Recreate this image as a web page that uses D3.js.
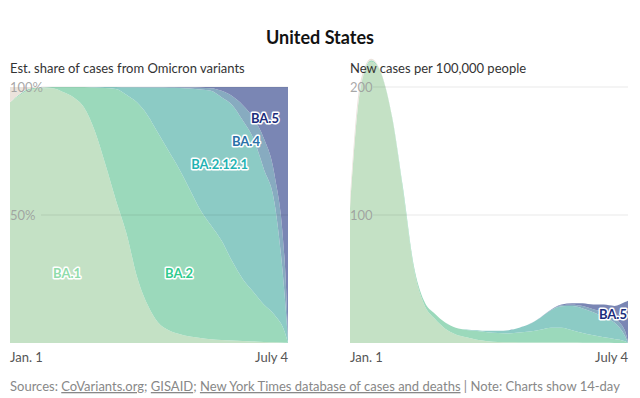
<!DOCTYPE html>
<html><head><meta charset="utf-8">
<script src="https://cdn.jsdelivr.net/npm/d3@7"></script>
<style>
body{margin:0;background:#fff;}
svg{display:block;font-family:Lato,"Liberation Sans",sans-serif;}
.lnk{text-decoration:underline;}
</style></head><body>
<svg id="c" width="640" height="398"></svg>
<script>
// ---- data ----
const days = [0,7,14,21,28,35,42,49,56,63,70,77,84,91,98,105,112,119,126,133,140,147,154,161,168,175,182,184];
const variantNames = ["BA.1","BA.2","BA.2.12.1","BA.4","BA.5","Other"];
const shareBA1    = [94,97,99,99.5,99.5,98,96,92,83,70,56,43,26,15,8,5,3.5,2.5,2,1.5,1.2,1,0.8,0.6,0.4,0.3,0.1,0];
const shareBA2    = [0,0.5,0.5,0.3,0.5,2,4,8,16.8,29.6,43.2,54,68,74,74,70,64.5,57.5,50,44.5,38.8,31,24.2,19.4,14.6,10.7,3.9,0];
const shareBA2121 = [0,0,0,0,0,0,0,0,0.2,0.4,0.8,2.9,5.9,10.8,17.8,24.7,31.6,39.4,47,52.5,56,61,62,60,53,44,13,1];
const shareBA4    = [0,0,0,0,0,0,0,0,0,0,0,0.1,0.1,0.2,0.2,0.3,0.3,0.4,0.7,1,2.5,3.5,6,8,12,11,13,1];
const shareBA5    = [0,0,0,0,0,0,0,0,0,0,0,0,0,0,0,0,0.1,0.2,0.3,0.5,1.5,3.5,7,12,20,34,70,98];
const shareOther  = [6,2.5,0.5,0.2,0,0,0,0,0,0,0,0,0,0,0,0,0,0,0,0,0,0,0,0,0,0,0,0];
const casesPer100k = [112,205,222,210,176,122,62,33,23,16,12,10.5,10,9.5,9.5,10,12,15,20,26,30,31,31,30,30,29,32,33];
const shareTicks = [50,100];
const shareTickLabels = ["50%","100%"];
const caseTicks = [100,200];
const caseTickLabels = ["100","200"];
const xTickLabels = ["Jan. 1","July 4"];

// ---- styling ----
const colors = {"BA.1":"#c4e1c5","BA.2":"#9bd9bb","BA.2.12.1":"#8ccbc5","BA.4":"#87abc0","BA.5":"#7a86b4","Other":"#ebe3dc"};
const labelColors = {"BA.1":"#8fdcaa","BA.2":"#2fcb8e","BA.2.12.1":"#1fb3b3","BA.4":"#2a70a8","BA.5":"#1b2c7c"};

const start = new Date(2022,0,1);
const dates = days.map(d => d3.timeDay.offset(start, d));
const keys = ["BA1","BA2","BA2121","BA4","BA5","Other"];
const shareArrays = [shareBA1,shareBA2,shareBA2121,shareBA4,shareBA5,shareOther];
const keyName = {BA1:"BA.1",BA2:"BA.2",BA2121:"BA.2.12.1",BA4:"BA.4",BA5:"BA.5",Other:"Other"};

const shareRows = dates.map((dt,i) => {
  const r = {date: dt};
  keys.forEach((k,j) => r[k] = shareArrays[j][i]);
  return r;
});
const caseRows = dates.map((dt,i) => {
  const r = {date: dt};
  keys.forEach((k,j) => r[k] = shareArrays[j][i] / 100 * casesPer100k[i]);
  return r;
});

const svg = d3.select("#c");
const yTop = 87, yBot = 343;

// title
svg.append("text").attr("x",320).attr("y",44).attr("text-anchor","middle")
  .attr("font-size",18).attr("font-weight",700).attr("fill","#121212").text("United States");

function panel(x0, x1, rows, yMax, ticks, tickLabels, subtitle, labels, gridStart) {
  const x = d3.scaleTime().domain([dates[0], dates[dates.length-1]]).range([x0, x1]);
  const y = d3.scaleLinear().domain([0, yMax]).range([yBot, yTop]);
  const g = svg.append("g");
  const stack = d3.stack().keys(keys)(rows);
  const area = d3.area().x(d => x(d.data.date)).y0(d => y(d[0])).y1(d => y(d[1])).curve(d3.curveMonotoneX);
  g.selectAll("path.a").data(stack).join("path").attr("class","a")
    .attr("d", area).attr("fill", d => colors[keyName[d.key]]);
  // gridlines
  g.selectAll("line.g").data(ticks).join("line").attr("class","g")
    .attr("x1", x0 + gridStart).attr("x2", x1).attr("y1", d => y(d)).attr("y2", d => y(d))
    .attr("stroke", "#000").attr("stroke-opacity", 0.09).attr("stroke-width",1);
  g.selectAll("text.t").data(ticks).join("text").attr("class","t")
    .attr("x", x0).attr("y", d => y(d)).attr("dy","0.35em")
    .attr("font-size",13).attr("fill","#999").attr("fill-opacity",0.85)
    .text((d,i) => tickLabels[i]);
  // subtitle
  g.append("text").attr("x", x0).attr("y", 73).attr("font-size",13).attr("fill","#333").text(subtitle);
  // x labels
  g.append("text").attr("x", x0).attr("y", 362).attr("font-size",13).attr("fill","#555").text(xTickLabels[0]);
  g.append("text").attr("x", x1).attr("y", 362).attr("text-anchor","end").attr("font-size",13).attr("fill","#555").text(xTickLabels[1]);
  // variant labels
  labels.forEach(l => {
    g.append("text").attr("x", l.x).attr("y", l.y).attr("text-anchor", l.anchor || "start")
      .attr("font-size",13).attr("font-weight",700)
      .attr("fill", labelColors[l.name]).attr("stroke","#fff").attr("stroke-width",3)
      .attr("stroke-linejoin","round").attr("paint-order","stroke").text(l.name);
  });
}

panel(10, 288, shareRows, 100, shareTicks, shareTickLabels, "Est. share of cases from Omicron variants", [
  {name:"BA.5", x:279, y:123, anchor:"end"},
  {name:"BA.4", x:260, y:146, anchor:"end"},
  {name:"BA.2.12.1", x:248, y:169, anchor:"end"},
  {name:"BA.1", x:53, y:278},
  {name:"BA.2", x:165, y:278}
], 31);
panel(350, 628, caseRows, 200, caseTicks, caseTickLabels, "New cases per 100,000 people", [
  {name:"BA.5", x:627, y:319, anchor:"end"}
], 23);

// footer
const f = svg.append("text").attr("x",10).attr("y",391).attr("font-size",13).attr("fill","#888");
f.append("tspan").text("Sources: ");
f.append("tspan").attr("class","lnk").text("CoVariants.org");
f.append("tspan").text("; ");
f.append("tspan").attr("class","lnk").text("GISAID");
f.append("tspan").text("; ");
f.append("tspan").attr("class","lnk").text("New York Times database of cases and deaths");
f.append("tspan").text(" | Note: Charts show 14-day");
</script>
</body></html>
